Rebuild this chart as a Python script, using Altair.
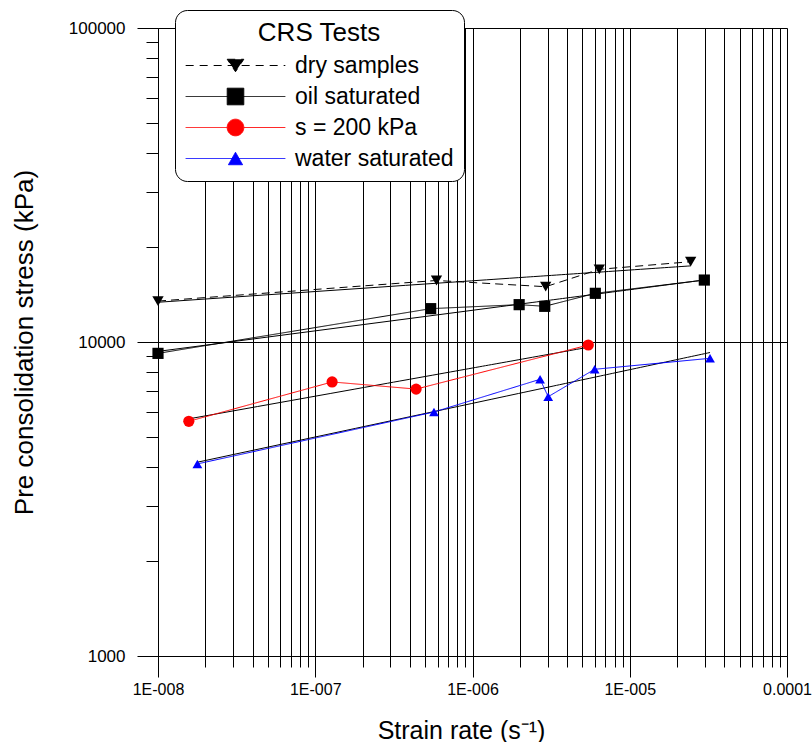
import math
import altair as alt
import pandas as pd

FONT = "Liberation Sans"

series_names = ["dry samples", "oil saturated", "s = 200 kPa", "water saturated"]
series_colors = ["#000000", "#000000", "#ff0000", "#0000ff"]
series_shapes = ["triangle-down", "square", "circle", "triangle-up"]
series_sizes = [128, 125, 125, 95]
legend_paths = [
    "M-6,0H6M-1,-0.75H1L0,0.75Z",
    "M-6,0H6M-1,-1H1V1H-1Z",
    "M-6,0H-1M1,0H6M1,0A1,1 0 1,1 -1,0A1,1 0 1,1 1,0Z",
    "M-6,0H6M-0.85,0.75H0.85L0,-0.75Z",
]
legend_dashes = [[8, 6], [1, 0], [1, 0], [1, 0]]

dry_rate = [1.0e-8, 5.9e-7, 2.92e-6, 6.4e-6, 2.44e-5]
dry_stress = [13500, 15700, 15000, 17040, 18020]
oil_rate = [1.0e-8, 5.42e-7, 1.98e-6, 2.88e-6, 6.04e-6, 2.98e-5]
oil_stress = [9200, 12770, 13150, 12990, 14290, 15750]
s200_rate = [1.57e-8, 1.28e-7, 4.38e-7, 5.45e-6]
s200_stress = [5590, 7460, 7080, 9780]
water_rate = [1.78e-8, 5.69e-7, 2.69e-6, 3.03e-6, 5.98e-6, 3.24e-5]
water_stress = [4090, 5985, 7607, 6697, 8186, 8873]

x_major = [1e-8, 1e-7, 1e-6, 1e-5, 1e-4]
x_major_labels = ["1E-008", "1E-007", "1E-006", "1E-005", "0.0001"]
y_major = [1000, 10000, 100000]
y_major_labels = ["1000", "10000", "100000"]
minor_mult = [1, 2, 3, 4, 5, 6, 7, 8, 9]

x_ticks = [m * v for v in x_major[:-1] for m in minor_mult] + [x_major[-1]]
y_ticks = [m * v for v in y_major[:-1] for m in minor_mult] + [y_major[-1]]

rows = []
for name, rates, stresses in [
    (series_names[0], dry_rate, dry_stress),
    (series_names[1], oil_rate, oil_stress),
    (series_names[2], s200_rate, s200_stress),
    (series_names[3], water_rate, water_stress),
]:
    for r, s in zip(rates, stresses):
        rows.append({"series": name, "rate": r, "stress": s})
df = pd.DataFrame(rows)

major_test = "abs(log(datum.value)/LN10 - round(log(datum.value)/LN10)) < 0.01"


def label_expr(values, labels):
    parts = []
    for v, l in zip(values, labels):
        parts.append(
            f"abs(log(datum.value)/LN10 - ({round(math.log10(v))})) < 0.01 ? '{l}'"
        )
    return " : ".join(parts) + " : ''"


x_axis = alt.Axis(
    values=x_ticks,
    grid=True,
    gridColor="black",
    gridWidth=1,
    gridOpacity=1,
    domainColor="black",
    domainWidth=1,
    tickColor="black",
    tickWidth=1,
    tickSize={"condition": {"test": major_test, "value": 21}, "value": 11},
    labelExpr=label_expr(x_major, x_major_labels),
    labelFontSize=16,
    labelFont=FONT,
    labelColor="black",
    labelPadding=4,
    labelFlush=False,
    labelOverlap=False,
    labelBound=False,
    title="Strain rate (s⁻¹)",
    titleFontSize=25,
    titleFont=FONT,
    titleFontWeight="normal",
    titleColor="black",
    titlePadding=21,
    titleX=303,
)

y_axis = alt.Axis(
    values=y_ticks,
    grid=True,
    gridColor="black",
    gridWidth=1,
    gridOpacity={"condition": {"test": major_test, "value": 1}, "value": 0},
    domainColor="black",
    domainWidth=1,
    tickColor="black",
    tickWidth=1,
    tickSize={"condition": {"test": major_test, "value": 21}, "value": 12},
    labelExpr=label_expr(y_major, y_major_labels),
    labelFontSize=17,
    labelFont=FONT,
    labelColor="black",
    labelPadding=12,
    labelFlush=False,
    labelOverlap=False,
    labelBound=False,
    title="Pre consolidation stress (kPa)",
    titleFontSize=26,
    titleFont=FONT,
    titleFontWeight="normal",
    titleColor="black",
    titlePadding=31,
)

x_enc = alt.X("rate:Q", scale=alt.Scale(type="log", domain=[1e-8, 1e-4], nice=False), axis=x_axis)
y_enc = alt.Y("stress:Q", scale=alt.Scale(type="log", domain=[1000, 100000], nice=False), axis=y_axis)

color_scale = alt.Scale(domain=series_names, range=series_colors)

base = alt.Chart(df)

reg = (
    base.transform_regression("rate", "stress", method="pow", groupby=["series"])
    .mark_line(color="black", strokeWidth=1)
    .encode(x=x_enc, y=y_enc, detail="series:N")
)

lines = base.mark_line(strokeWidth=1).encode(
    x=x_enc,
    y=y_enc,
    color=alt.Color("series:N", scale=color_scale, legend=None),
    strokeDash=alt.condition(
        "datum.series == 'dry samples'", alt.value([8, 5]), alt.value([1, 0])
    ),
    detail="series:N",
    order="rate:Q",
)

point_layers = []
for name, col, shp, sz in zip(series_names, series_colors, series_shapes, series_sizes):
    point_layers.append(
        base.transform_filter(alt.datum.series == name)
        .mark_point(filled=True, opacity=1, shape=shp, size=sz, color=col)
        .encode(x=x_enc, y=y_enc)
    )

leg = alt.Legend(
    title="CRS Tests",
    orient="none",
    legendX=17,
    legendY=-18,
    direction="vertical",
    padding=10,
    cornerRadius=12,
    strokeColor="black",
    fillColor="white",
    titleFontSize=26,
    titleFont=FONT,
    titleFontWeight="normal",
    titleColor="black",
    titleAnchor="middle",
    titlePadding=8,
    labelFontSize=23,
    labelFont=FONT,
    labelColor="black",
    labelOffset=48,
    symbolOffset=39,
    symbolSize=276,
    symbolStrokeWidth=1,
    symbolOpacity=1,
    rowPadding=7,
    labelLimit=400,
)

legend_layer = (
    base.transform_filter("false")
    .mark_point(filled=True, size=276, strokeWidth=1, opacity=1)
    .encode(
        fill=alt.Fill("series:N", scale=alt.Scale(domain=series_names, range=series_colors), legend=leg),
        stroke=alt.Stroke("series:N", scale=alt.Scale(domain=series_names, range=series_colors), legend=leg),
        shape=alt.Shape("series:N", scale=alt.Scale(domain=series_names, range=legend_paths), legend=leg),
        strokeDash=alt.StrokeDash("series:N", scale=alt.Scale(domain=series_names, range=legend_dashes), legend=leg),
    )
)

chart = (
    alt.layer(reg, lines, *point_layers, legend_layer)
    .resolve_scale(fill="independent", stroke="independent", shape="independent", strokeDash="independent")
    .properties(
        width=629,
        height=628,
        autosize=alt.AutoSizeParams(type="none"),
        padding={"left": 158, "top": 28, "right": 25, "bottom": 86},
        background="white",
    )
    .configure_view(stroke=None)
    .configure(font=FONT)
)

chart.save("out.html", embed_options={"renderer": "svg", "actions": False})
